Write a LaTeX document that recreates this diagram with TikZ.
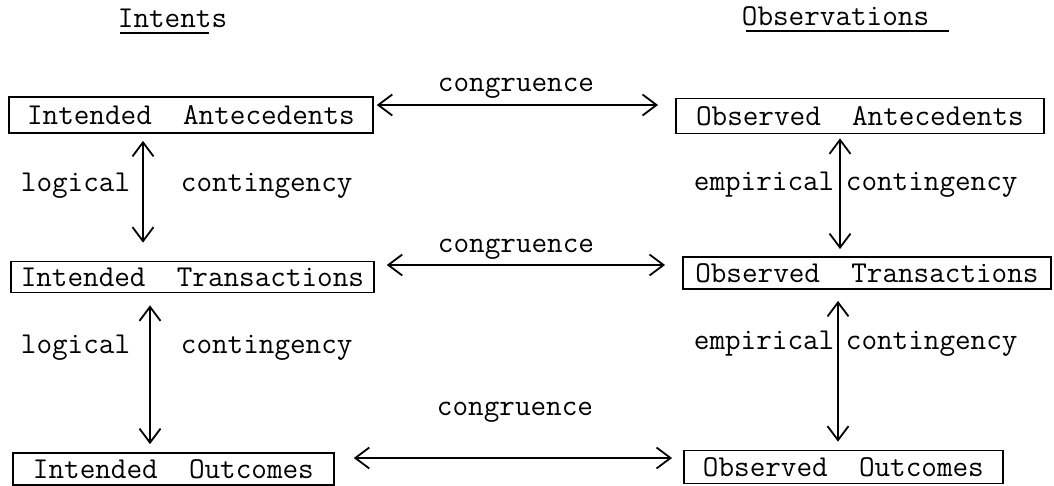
\documentclass[tikz,border=0pt]{standalone}
\usepackage{fontspec}
\usetikzlibrary{arrows.meta}

\begin{document}
\begin{tikzpicture}[x=1pt,y=-1pt,line width=1.8pt,
    font=\ttfamily\fontsize{30.3}{34}\selectfont,
    box/.style={draw,anchor=west,inner sep=0pt},
    lbl/.style={inner sep=0pt,anchor=base west},
    biarrow/.style={{Straight Barb[length=14pt,width=21pt]}-{Straight Barb[length=14pt,width=21pt]}}]
\useasboundingbox (0,0) rectangle (1054,486);

% headings
\node[inner sep=0pt,anchor=base west] (intents) at (117,28) {Intents};
\node[inner sep=0pt,anchor=base west] (observ) at (741,26) {Observations};
\draw ([xshift=3pt,yshift=-5pt]intents.base west) -- ([xshift=-19pt,yshift=-5pt]intents.base east);
\draw ([xshift=5pt,yshift=-5pt]observ.base west) -- ([xshift=19pt,yshift=-5pt]observ.base east);

% boxes
\node[box,minimum width=364pt,minimum height=36pt] (ia) at (8,115) {Intended~~Antecedents};
\node[box,minimum width=368pt,minimum height=35pt] (oa) at (675,116) {Observed~~Antecedents};
\node[box,minimum width=363pt,minimum height=31pt] (it) at (10,277) {Intended~~Transactions};
\node[box,minimum width=368pt,minimum height=32pt] (ot) at (682,273) {Observed~~Transactions};
\node[box,minimum width=321pt,minimum height=32pt] (io) at (12,469) {Intended~~Outcomes};
\node[box,minimum width=319pt,minimum height=33pt] (oo) at (683,467) {Observed~~Outcomes};

% congruence
\node[lbl,anchor=base] (cong1) at (516,92) {congruence};
\node[lbl,anchor=base] (cong2) at (516,253) {congruence};
\node[lbl,anchor=base] (cong3) at (515,415) {congruence};
\draw[biarrow,shorten <=3pt,shorten >=17pt] ([yshift=10pt]ia.east) -- ([yshift=11pt]oa.west);
\draw[biarrow,shorten <=12pt,shorten >=17pt] ([yshift=12pt]it.east) -- ([yshift=8pt]ot.west);
\draw[biarrow,shorten <=19pt,shorten >=11pt] ([yshift=11pt]io.east) -- ([yshift=9pt]oo.west);

% contingency
\node[lbl] (log1) at (20,192) {logical};
\node[lbl] (lcont1) at (180,192) {contingency};
\node[lbl] (log2) at (20,353) {logical};
\node[lbl] (lcont2) at (180,353) {contingency};
\node[lbl] (emp1) at (693,191) {empirical};
\node[lbl] (econt1) at (845,191) {contingency};
\node[lbl] (emp2) at (693,349) {empirical};
\node[lbl] (econt2) at (845,349) {contingency};
\draw[biarrow,shorten <=7pt,shorten >=18pt] ([xshift=135pt]ia.south west) -- ([xshift=133pt]it.north west);
\draw[biarrow,shorten <=12pt,shorten >=8pt] ([xshift=140pt]it.south west) -- ([xshift=138pt]io.north west);
\draw[biarrow,shorten <=4pt,shorten >=7pt] ([xshift=165pt]oa.south west) -- ([xshift=158pt]ot.north west);
\draw[biarrow,shorten <=11pt,shorten >=8pt] ([xshift=156pt]ot.south west) -- ([xshift=155pt]oo.north west);
\end{tikzpicture}
\end{document}
